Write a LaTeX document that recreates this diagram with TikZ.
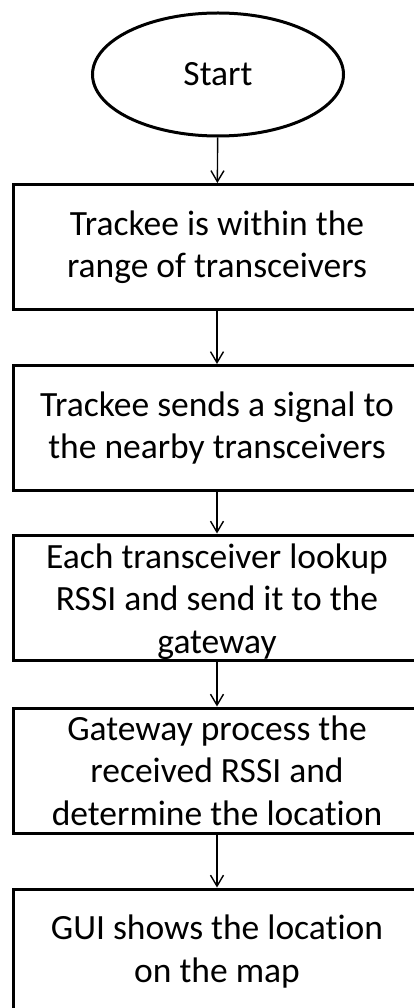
\documentclass[tikz,border=0pt]{standalone}
\usepackage{fontspec}
\setmainfont[Ligatures=NoCommon]{Carlito}
\usetikzlibrary{shapes.geometric,arrows.meta}
\begin{document}
\begin{tikzpicture}[x=1pt,y=-1pt,
  txt/.style={align=center,inner sep=0pt,font=\fontsize{35.5}{42.5}\selectfont},
  stepbox/.style={draw=black,line width=3pt,rectangle,minimum width=408pt,minimum height=125pt,txt},
  startnode/.style={draw=black,line width=3pt,ellipse,minimum width=251pt,minimum height=123pt,txt},
  arr/.style={draw=black,line width=1.4pt,-{Straight Barb[length=11pt,width=13pt]}}]
\useasboundingbox (0,0) rectangle (414,1008);
\clip (0,0) rectangle (414,1008);
\fill[white] (0,0) rectangle (414,1008);
\node[startnode] (start) at (218,74.5) {\raisebox{-2pt}{Start}};
\node[stepbox] (b1) at (217,247) {Trackee is within the\\range of transceivers};
\node[stepbox] (b2) at (217,428) {Trackee sends a signal to\\the nearby transceivers};
\node[stepbox] (b3) at (217,597.5) {};
\node[txt] (t3) at (217,601.5) {Each transceiver lookup\\RSSI and send it to the\\gateway};
\node[stepbox] (b4) at (217,770.5) {Gateway process the\\received RSSI and\\determine the location};
\node[stepbox] (b5) at (217,951.5) {GUI shows the location\\on the map};
\draw[arr] (start) -- (b1);
\draw[arr] (b1) -- (b2);
\draw[arr] (b2) -- (b3);
\draw[arr] (b3) -- (b4);
\draw[arr] (b4) -- (b5);
\end{tikzpicture}
\end{document}
